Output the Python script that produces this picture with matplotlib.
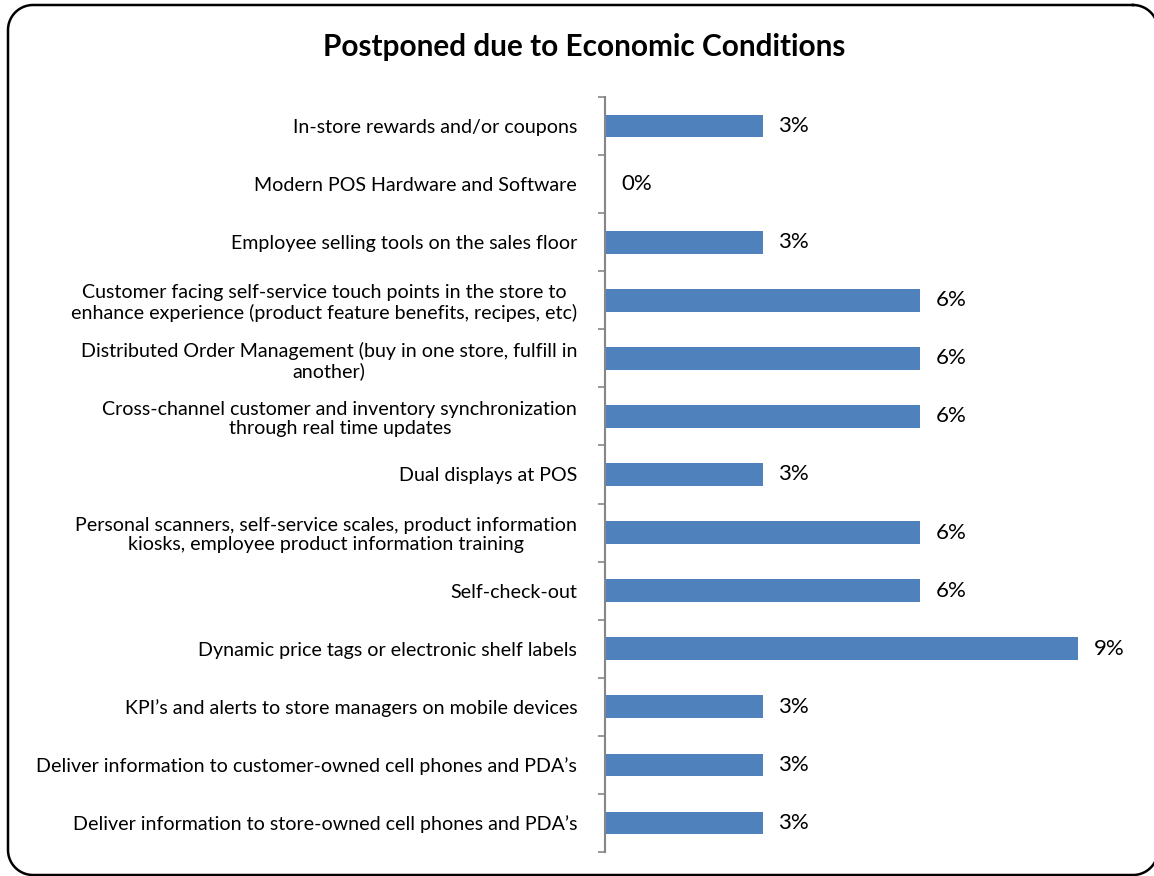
import numpy as np
import matplotlib
matplotlib.use("Agg")
import matplotlib.pyplot as plt
from matplotlib.lines import Line2D

plt.rcParams['font.family'] = ['Lato', 'DejaVu Sans']

categories = [
    "In-store rewards and/or coupons",
    "Modern POS Hardware and Software",
    "Employee selling tools on the sales floor",
    "Customer facing self-service touch points in the store to\nenhance experience (product feature benefits, recipes, etc)",
    "Distributed Order Management (buy in one store, fulfill in\nanother)",
    "Cross-channel customer and inventory synchronization\nthrough real time updates",
    "Dual displays at POS",
    "Personal scanners, self-service scales, product information\nkiosks, employee product information training",
    "Self-check-out",
    "Dynamic price tags or electronic shelf labels",
    "KPI\u2019s and alerts to store managers on mobile devices",
    "Deliver information to customer-owned cell phones and PDA\u2019s",
    "Deliver information to store-owned cell phones and PDA\u2019s",
]
values = [3, 0, 3, 6, 6, 6, 3, 6, 6, 9, 3, 3, 3]
value_labels = ["3%", "0%", "3%", "6%", "6%", "6%", "3%", "6%", "6%", "9%", "3%", "3%", "3%"]

W, H = 1154, 876
fig = plt.figure(figsize=(W / 100, H / 100), dpi=100)

# rounded border, pixel coords (y down), right edge just past the image
def rounded_rect(x0, y0, x1, y1, r):
    t = np.linspace(0, np.pi / 2, 20)
    xs, ys = [], []
    for cx, cy, a0 in [(x1 - r, y0 + r, -np.pi / 2), (x1 - r, y1 - r, 0),
                       (x0 + r, y1 - r, np.pi / 2), (x0 + r, y0 + r, np.pi)]:
        xs += list(cx + r * np.cos(a0 + t))
        ys += list(cy + r * np.sin(a0 + t))
    xs.append(xs[0]); ys.append(ys[0])
    return np.array(xs), np.array(ys)

fx, fy = rounded_rect(8, 5, 1158, 875, 25)
fig.add_artist(Line2D(fx / W, 1 - fy / H, transform=fig.transFigure,
                      color="black", linewidth=1.8, clip_on=False))

ax = fig.add_axes([605 / W, 1 - 852 / H, (1130 - 605) / W, (852 - 97) / H])

n = len(categories)
pos = list(range(n))
ax.barh(pos, values, height=0.39, color="#4F81BD", edgecolor="none")
ax.set_ylim(n - 0.5, -0.5)
ax.set_xlim(0, 10)

for p, v, lab in zip(pos, values, value_labels):
    ax.annotate(lab, (v, p), xytext=(11.5, 0), textcoords="offset points",
                va="center", ha="left", fontsize=16, color="black")

# boundary ticks (major) and label positions (minor)
ax.set_yticks([i - 0.5 for i in range(n + 1)])
ax.set_yticklabels([])
ax.set_yticks(pos, minor=True)
ax.set_yticklabels(categories, minor=True, fontsize=14.1, multialignment="center",
                   linespacing=1.15)
ax.tick_params(axis="y", which="major", length=5, width=1.2, color="#868686", direction="out")
ax.tick_params(axis="y", which="minor", length=0, pad=20)

ax.set_xticks([])
for s in ["top", "right", "bottom"]:
    ax.spines[s].set_visible(False)
ax.spines["left"].set_color("#868686")
ax.spines["left"].set_linewidth(1.5)

fig.text(584 / W, 1 - 47 / H, "Postponed due to Economic Conditions",
         ha="center", va="center", fontsize=21.4, fontweight="bold")

fig.savefig("out.png", dpi=100)
